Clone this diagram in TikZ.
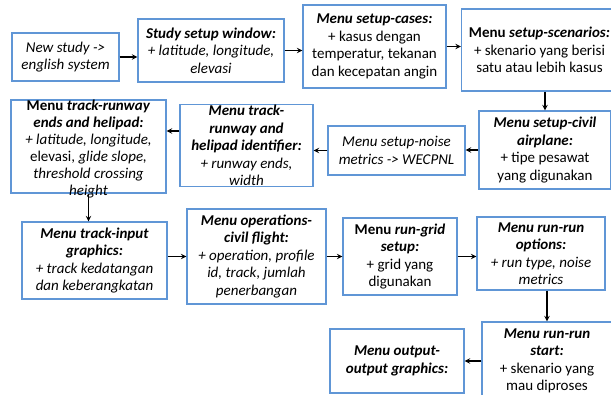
\documentclass[tikz,border=0pt]{standalone}
\usepackage{fontspec}
\setmainfont{Carlito}
\usepackage{xcolor}
\usetikzlibrary{arrows, positioning, calc}
\definecolor{boxblue}{RGB}{96,150,214}

\begin{document}
\begin{tikzpicture}[
    x=1pt, y=-1pt,
    box/.style={rectangle, draw=boxblue, line width=1.3pt, fill=white, align=center,
                font=\fontsize{15}{17.5}\selectfont, inner sep=1pt},
    arr/.style={draw, ->, >=stealth, line width=1.4pt}
]
\clip (0,0) rectangle (611,394);

\node[box, minimum width=107, minimum height=48] (newstudy) at (65.5,57)
    {\textit{New study ->}\\\textit{english system}};
\node[box, minimum width=146, minimum height=63] (studysetup) at (211,50.5)
    {\textbf{\textit{Study setup window:}}\\\textit{+ latitude, longitude,}\\\textit{elevasi}};
\node[box, minimum width=143, minimum height=83] (cases) at (374.5,46.5)
    {\textbf{\textit{Menu setup-cases:}}\\+ kasus dengan\\temperatur, tekanan\\dan kecepatan angin};
\node[box, minimum width=156, minimum height=82] (scenarios) at (539.5,50)
    {\textbf{Menu \textit{setup-scenarios:}}\\+ skenario yang berisi\\satu atau lebih kasus};
\node[box, minimum width=132, minimum height=78] (airplane) at (545,150)
    {\textbf{\textit{Menu setup-civil}}\\\textbf{\textit{airplane:}}\\+ tipe pesawat\\yang digunakan};
\node[box, minimum width=137, minimum height=49] (noise) at (396.5,150.5)
    {\textit{Menu setup-noise}\\\textit{metrics -> WECPNL}};
\node[box, minimum width=133, minimum height=77] (identifier) at (246.5,145.5)
    {\textbf{\textit{Menu track-}}\\\textbf{\textit{runway and}}\\\textbf{\textit{helipad identifier:}}\\\textit{+ runway ends,}\\\textit{width}};
\node[box, minimum width=155, minimum height=93] (runwayends) at (88.5,146.5) {};
\node[align=center, font=\fontsize{15}{17}\selectfont, inner sep=0pt] (runwayendstext) at ([yshift=-3pt]runwayends.center)
    {\textbf{Menu \textit{track-runway}}\\\textbf{\textit{ends and helipad:}}\\\textit{+ latitude, longitude,}\\elevasi, \textit{glide slope,}\\\textit{threshold crossing}\\\textit{height}};
\node[box, minimum width=145, minimum height=77] (inputgraphics) at (94.5,260.5)
    {\textbf{\textit{Menu track-input}}\\\textbf{\textit{graphics:}}\\\textit{+ track kedatangan}\\\textit{dan keberangkatan}};
\node[box, minimum width=139, minimum height=95] (civilflight) at (256.5,256.5)
    {\textbf{\textit{Menu operations-}}\\\textbf{\textit{civil flight:}}\\\textit{+ operation, profile}\\\textit{id, track, jumlah}\\\textit{penerbangan}};
\node[box, minimum width=114, minimum height=77] (gridsetup) at (400,256.5)
    {\textbf{Menu \textit{run-grid}}\\\textbf{\textit{setup:}}\\+ grid yang\\digunakan};
\node[box, minimum width=128, minimum height=73] (runoptions) at (541,253.5)
    {\textbf{\textit{Menu run-run}}\\\textbf{\textit{options:}}\\\textit{+ run type, noise}\\\textit{metrics}};
\node[box, minimum width=130, minimum height=78] (runstart) at (547,361)
    {\textbf{\textit{Menu run-run}}\\\textbf{\textit{start:}}\\+ skenario yang\\mau diproses};
\node[box, minimum width=134, minimum height=64] (outputgraphics) at (397,361)
    {\textbf{\textit{Menu output-}}\\\textbf{\textit{output graphics:}}};

\draw[arr] (newstudy.east) -- (newstudy.east -| studysetup.west);
\draw[arr] (studysetup.east) -- (studysetup.east -| cases.west);
\draw[arr] (cases.east) -- (cases.east -| scenarios.west);
\draw[arr] (airplane.north |- scenarios.south) -- (airplane.north);
\draw[arr] (airplane.west) -- (airplane.west -| noise.east);
\draw[arr] (noise.west) -- (noise.west -| identifier.east);
\draw[arr] ([yshift=14.5pt]identifier.west) -- ([yshift=14.5pt]identifier.west -| runwayends.east);
\draw[arr] (runwayends.south) -- (runwayends.south |- inputgraphics.north);
\draw[arr] (civilflight.west -| inputgraphics.east) -- (civilflight.west);
\draw[arr] (civilflight.east) -- (civilflight.east -| gridsetup.west);
\draw[arr] (gridsetup.east) -- (gridsetup.east -| runoptions.west);
\draw[arr] (runstart.north |- runoptions.south) -- (runstart.north);
\draw[arr] (runstart.west) -- (runstart.west -| outputgraphics.east);

\end{tikzpicture}
\end{document}
